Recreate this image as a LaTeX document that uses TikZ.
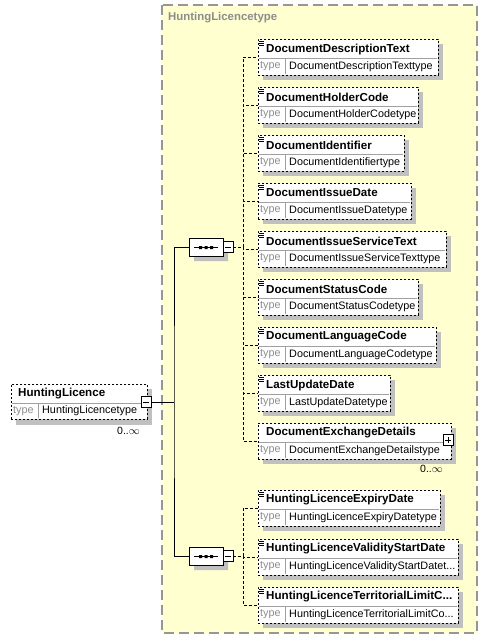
\documentclass[tikz,border=0pt]{standalone}
\usepackage{fontspec}
\setmainfont{Liberation Sans}
\usetikzlibrary{shapes.misc}
\definecolor{contfill}{RGB}{255,255,208}
\definecolor{contline}{RGB}{150,150,150}
\definecolor{shadowc}{RGB}{192,192,192}
\definecolor{typegray}{RGB}{140,140,140}
\definecolor{sepgray}{RGB}{160,160,160}
\tikzset{
  optbox/.style={draw=black, fill=white, line width=0.9pt, dash pattern=on 2pt off 2pt, anchor=north west, inner sep=0pt},
  ename/.style={anchor=west, inner sep=0pt, font=\fontsize{11.6}{13}\selectfont\bfseries},
  tlabel/.style={anchor=west, inner sep=0pt, font=\fontsize{10.8}{12}\selectfont, text=typegray},
  tname/.style={anchor=west, inner sep=0pt, font=\fontsize{10.8}{12}\selectfont},
  occ/.style={anchor=north east, inner sep=0pt, font=\fontsize{10.5}{12}\selectfont},
  seqbox/.style={chamfered rectangle, chamfered rectangle xsep=5pt, chamfered rectangle ysep=5pt, draw=black, fill=white, line width=0.8pt, minimum width=34pt, minimum height=18pt, inner sep=0pt},
  pmbox/.style={draw=black, fill=white, line width=0.8pt, minimum width=10pt, minimum height=11pt, inner sep=0pt},
  conn/.style={line width=0.9pt, dash pattern=on 3pt off 2pt},
  solidconn/.style={line width=1pt}
}
% #1 node name, #2 left x, #3 top y, #4 right x, #5 title, #6 type
\newcommand\elembox[6]{%
  \fill[shadowc] (#2+5,#3+5) rectangle (#4+5,#3+41);
  \node[optbox, minimum width={(#4-#2)*1pt}, minimum height=36pt] (#1) at (#2,#3) {};
  \draw[sepgray, line width=0.6pt] (#2+1,#3+19) -- (#4-1,#3+19);
  \draw[sepgray, line width=0.6pt] (#2+27,#3+20) -- (#2+27,#3+35);
  \node[ename] (#1t) at (#2+8,#3+10) {#5};
  \node[tlabel] (#1l) at (#2+2,#3+27.5) {type};
  \node[tname] (#1n) at (#2+31,#3+27.5) {#6};
}
\newcommand\simplemark[2]{%
  \draw[black, line width=0.6pt] (#1+1,#2+2) -- (#1+6,#2+2) (#1+1,#2+4) -- (#1+6,#2+4) (#1+1,#2+6) -- (#1+6,#2+6);
}
\begin{document}
\begin{tikzpicture}[x=1pt,y=-1pt]
\useasboundingbox (0,0) rectangle (488,643);
% container
\draw[contline, fill=contfill, line width=1.3pt, dash pattern=on 10pt off 5pt] (162,5) rectangle (477,633);
\node[anchor=west, inner sep=0pt, text=typegray, font=\fontsize{11.4}{13}\selectfont\bfseries] (ctitle) at (168,18) {HuntingLicencetype};

% main element
\fill[shadowc] (16,389) rectangle (152,425);
\node[optbox, minimum width=136pt, minimum height=35pt] (main) at (11,384) {};
\draw[sepgray, line width=0.6pt] (12,403) -- (146,403);
\draw[sepgray, line width=0.6pt] (38,404) -- (38,418);
\node[ename] (maint) at (18,394) {HuntingLicence};
\node[tlabel] (mainl) at (13,411) {type};
\node[tname] (mainn) at (42,411) {HuntingLicencetype};
\node[pmbox] (mainpm) at (146,402) {};
\draw[line width=0.8pt] (143,402) -- (149,402);
\node[occ] (mainocc) at (140,427) {0..$\infty$};

% sequence compositors
\coordinate (j) at (174,402);
\node[seqbox, fill=shadowc, draw=none] (s1sh) at (211,252) {};
\node[seqbox] (s1) at (206,247) {};
\fill (199,246) rectangle (202,249) (204.5,246) rectangle (207.5,249) (210,246) rectangle (213,249);
\draw[line width=0.8pt] (194,247.5) -- (218,247.5);
\node[pmbox] (s1pm) at (228,247) {};
\draw[line width=0.8pt] (225,247) -- (231,247);

\node[seqbox, fill=shadowc, draw=none] (s2sh) at (211,561) {};
\node[seqbox] (s2) at (206,556) {};
\fill (199,555) rectangle (202,558) (204.5,555) rectangle (207.5,558) (210,555) rectangle (213,558);
\draw[line width=0.8pt] (194,556.5) -- (218,556.5);
\node[pmbox] (s2pm) at (228,556) {};
\draw[line width=0.8pt] (225,556) -- (231,556);

\draw[solidconn] (mainpm.east) -- (j);
\draw[solidconn] (s1.west) -| (j) |- (s2.west);

% group 1 elements
\elembox{e1}{258}{39}{438}{DocumentDescriptionText}{DocumentDescriptionTexttype}
\elembox{e2}{258}{87}{418}{DocumentHolderCode}{DocumentHolderCodetype}
\elembox{e3}{258}{135}{404}{DocumentIdentifier}{DocumentIdentifiertype}
\elembox{e4}{258}{183}{411}{DocumentIssueDate}{DocumentIssueDatetype}
\elembox{e5}{258}{231}{446}{DocumentIssueServiceText}{DocumentIssueServiceTexttype}
\elembox{e6}{258}{279}{418}{DocumentStatusCode}{DocumentStatusCodetype}
\elembox{e7}{258}{327}{436}{DocumentLanguageCode}{DocumentLanguageCodetype}
\elembox{e8}{258}{375}{390}{LastUpdateDate}{LastUpdateDatetype}
\elembox{e9}{258}{423}{451}{DocumentExchangeDetails}{DocumentExchangeDetailstype}
\node[pmbox] (e9pm) at (448,440) {};
\draw[line width=0.8pt] (445,440) -- (451,440) (448,437) -- (448,443);
\node[occ] (e9occ) at (443,465) {0..$\infty$};
\foreach \y in {39,87,135,183,231,279,327,375}{\simplemark{258}{\y}}

% group 2 elements
\elembox{f1}{258}{490}{440}{HuntingLicenceExpiryDate}{HuntingLicenceExpiryDatetype}
\elembox{f2}{258}{539}{458}{HuntingLicenceValidityStartDate}{HuntingLicenceValidityStartDatet...}
\elembox{f3}{258}{587}{458}{HuntingLicenceTerritorialLimitC...}{HuntingLicenceTerritorialLimitCo...}
\foreach \y in {490,539,587}{\simplemark{258}{\y}}

% connectors group 1
\coordinate (b1) at (243,247);
\draw[conn] (s1pm.east) -- (b1);
\foreach \n in {e1,e2,e3,e4,e5,e6,e7,e8,e9}{\draw[conn] (b1) |- (\n.west);}
% connectors group 2
\coordinate (b2) at (243,556);
\draw[conn] (s2pm.east) -- (b2);
\foreach \n in {f1,f2,f3}{\draw[conn] (b2) |- (\n.west);}
\end{tikzpicture}
\end{document}
